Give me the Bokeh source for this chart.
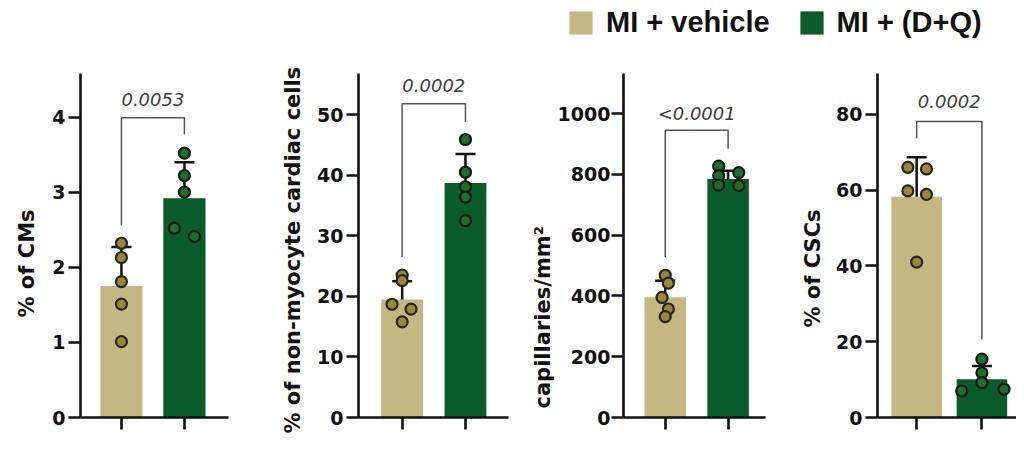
from bokeh.plotting import figure
from bokeh.layouts import column, row
from bokeh.models import (Range1d, FixedTicker, Whisker, TeeHead, ColumnDataSource,
                          Legend, LegendItem, Title)
from bokeh.core.properties import value
from bokeh.embed import file_html
from bokeh.resources import INLINE

# ---------------- data ----------------
groups = ["MI + vehicle", "MI + (D+Q)"]
group_x = [1, 2]

bar_colors = ["#c4b783", "#0b5b2b"]
dot_fill = ["#978742", "#1f6d31"]
dot_line = ["#2a2614", "#0c1c10"]

# panel 1: % of CMs
cm_mean = [1.75, 2.92]
cm_sd = [0.52, 0.48]
cm_veh = [2.32, 2.13, 1.81, 1.51, 1.01]
cm_dq = [3.52, 3.22, 3.00, 2.52, 2.41]
cm_veh_jit = [0.0, 0.0, 0.0, 0.0, 0.0]
cm_dq_jit = [0.0, 0.0, 0.0, -0.16, 0.16]
cm_ticks = [0, 1, 2, 3, 4]
cm_p = "0.0053"
cm_bracket = [2.56, 3.99, 3.77, 4.23]   # left foot, top, right foot, text

# panel 2: % of non-myocyte cardiac cells
nm_mean = [19.5, 38.7]
nm_sd = [3.0, 4.8]
nm_veh = [23.5, 22.6, 18.7, 17.9, 15.8]
nm_dq = [45.9, 40.5, 38.1, 36.4, 32.5]
nm_veh_jit = [0.0, 0.0, -0.16, 0.14, 0.0]
nm_dq_jit = [0.0, 0.0, 0.0, 0.0, 0.0]
nm_ticks = [0, 10, 20, 30, 40, 50]
nm_p = "0.0002"
nm_bracket = [26.5, 51.8, 48.8, 54.9]

# panel 3: capillaries/mm2
cap_mean = [396, 785]
cap_sd = [54, 27]
cap_veh = [468, 442, 395, 357, 332]
cap_dq = [827, 796, 765, 806, 763]
cap_veh_jit = [0.0, 0.05, -0.05, 0.05, 0.0]
cap_dq_jit = [-0.15, -0.15, -0.15, 0.17, 0.17]
cap_ticks = [0, 200, 400, 600, 800, 1000]
cap_p = "<0.0001"
cap_bracket = [528, 945, 884, 1002]

# panel 4: % of CSCs
csc_mean = [58.3, 10.1]
csc_sd = [10.4, 3.5]
csc_veh = [66.0, 65.6, 59.8, 58.9, 41.0]
csc_dq = [15.4, 11.8, 9.2, 7.0, 7.5]
csc_veh_jit = [-0.135, 0.15, -0.135, 0.15, 0.0]
csc_dq_jit = [0.0, 0.0, 0.0, -0.31, 0.34]
csc_ticks = [0, 20, 40, 60, 80]
csc_p = "0.0002"
csc_bracket = [73.7, 78.1, 20.6, 83.5]

FONT = "DejaVu Sans"


def make_panel(ylabel, mean, sd, veh, dq, veh_jit, dq_jit, ticks, ptxt, bracket,
               ymax, xr, bar_w, width, b_left, b_right, lab_standoff, lab_offset,
               tick_standoff=3):
    p = figure(width=width, height=416, output_backend="svg", toolbar_location=None,
               x_range=Range1d(*xr), y_range=Range1d(0, ymax),
               min_border_left=b_left, min_border_right=b_right,
               min_border_top=28, min_border_bottom=44)
    p.outline_line_color = None
    p.grid.visible = False
    p.background_fill_color = "white"
    p.border_fill_color = "white"

    src = ColumnDataSource(dict(x=group_x, top=mean, color=bar_colors,
                                upper=[m + s for m, s in zip(mean, sd)],
                                lower=[m - s for m, s in zip(mean, sd)]))
    p.vbar(x="x", top="top", width=bar_w, bottom=0, fill_color="color",
           line_color=None, source=src)

    w = Whisker(base="x", upper="upper", lower="lower", source=src,
                dimension="height", line_color="#111111", line_width=2.5,
                upper_head=TeeHead(size=20, line_width=2.5, line_color="#111111"),
                lower_head=TeeHead(size=20, line_width=2.5, line_color="#111111"))
    p.add_layout(w)

    for gi, (vals, jit) in enumerate([(veh, veh_jit), (dq, dq_jit)]):
        xs = [group_x[gi] + j for j in jit]
        r = p.scatter(xs, vals, size=11, marker="circle", fill_color=dot_fill[gi],
                      line_color=dot_line[gi], line_width=2.2)
        r.level = "overlay"

    # significance bracket
    p.line([group_x[0], group_x[0], group_x[1], group_x[1]],
           [bracket[0], bracket[1], bracket[1], bracket[2]],
           line_color="#555555", line_width=1.5)
    p.text(x=[(group_x[0] + group_x[1]) / 2], y=[bracket[3]], text=[ptxt],
           text_font=value(FONT), text_font_style="italic", text_font_size="18px",
           text_color="#3d3d3d", text_align="center", text_baseline="middle")

    # axes
    p.yaxis.ticker = FixedTicker(ticks=ticks)
    p.yaxis.major_label_text_font = FONT
    p.yaxis.major_label_text_font_style = "bold"
    p.yaxis.major_label_text_font_size = "19px"
    p.yaxis.major_label_text_color = "#111111"
    p.yaxis.major_label_standoff = tick_standoff

    p.xaxis.ticker = FixedTicker(ticks=group_x)
    p.xaxis.major_label_text_color = None

    for ax in (p.xaxis, p.yaxis):
        ax.axis_line_width = 2.6
        ax.axis_line_color = "#111111"
        ax.major_tick_line_width = 2.6
        ax.major_tick_line_color = "#111111"
        ax.major_tick_out = 12
        ax.major_tick_in = 0
        ax.minor_tick_line_color = None

    # y-axis title, started from the bottom with an offset as in the reference
    p.add_layout(Title(text=ylabel, align="left", offset=lab_offset,
                       standoff=lab_standoff, text_font=FONT, text_font_style="bold",
                       text_font_size="21px", text_color="#111111"), "left")
    return p


p1 = make_panel("% of CMs", cm_mean, cm_sd, cm_veh, cm_dq, cm_veh_jit, cm_dq_jit,
                cm_ticks, cm_p, cm_bracket, 4.58, (0.35, 2.70), 0.67, 250, 80, 22,
                21, 100)
p2 = make_panel("% of non-myocyte cardiac  cells", nm_mean, nm_sd, nm_veh, nm_dq,
                nm_veh_jit, nm_dq_jit, nm_ticks, nm_p, nm_bracket, 56.8, (0.31, 2.68),
                0.66, 278, 108, 20, 20, -16)
p3 = make_panel("capillaries/mm²", cap_mean, cap_sd, cap_veh, cap_dq, cap_veh_jit,
                cap_dq_jit, cap_ticks, cap_p, cap_bracket, 1132, (0.336, 2.595),
                0.66, 262, 94, 25, 0, 9, tick_standoff=1)
p4 = make_panel("% of CSCs", csc_mean, csc_sd, csc_veh, csc_dq, csc_veh_jit,
                csc_dq_jit, csc_ticks, csc_p, csc_bracket, 90.8, (0.40, 2.53),
                0.775, 226, 84, 0, 17, 90)

# legend strip (proxy bars sit outside the visible range)
lf = figure(width=1016, height=45, output_backend="svg", toolbar_location=None,
            x_range=(10, 11), y_range=(0, 1), min_border=0,
            x_axis_location=None, y_axis_location=None)
lf.grid.visible = False
lf.outline_line_color = None
lr = [lf.vbar(x=[gx], top=[0], width=0.1, fill_color=c, line_color=None)
      for gx, c in zip(group_x, bar_colors)]
leg = Legend(items=[LegendItem(label=g, renderers=[r]) for g, r in zip(groups, lr)],
             orientation="horizontal", location=(566, 6),
             glyph_width=29, glyph_height=29, label_standoff=11, spacing=27,
             padding=0, margin=0, border_line_color=None, background_fill_alpha=0,
             label_text_font="Liberation Sans", label_text_font_style="bold",
             label_text_font_size="29px", label_text_color="#111111")
lf.add_layout(leg)

layout = column(lf, row(p1, p2, p3, p4))
open("out.html", "w").write(file_html(layout, INLINE))
